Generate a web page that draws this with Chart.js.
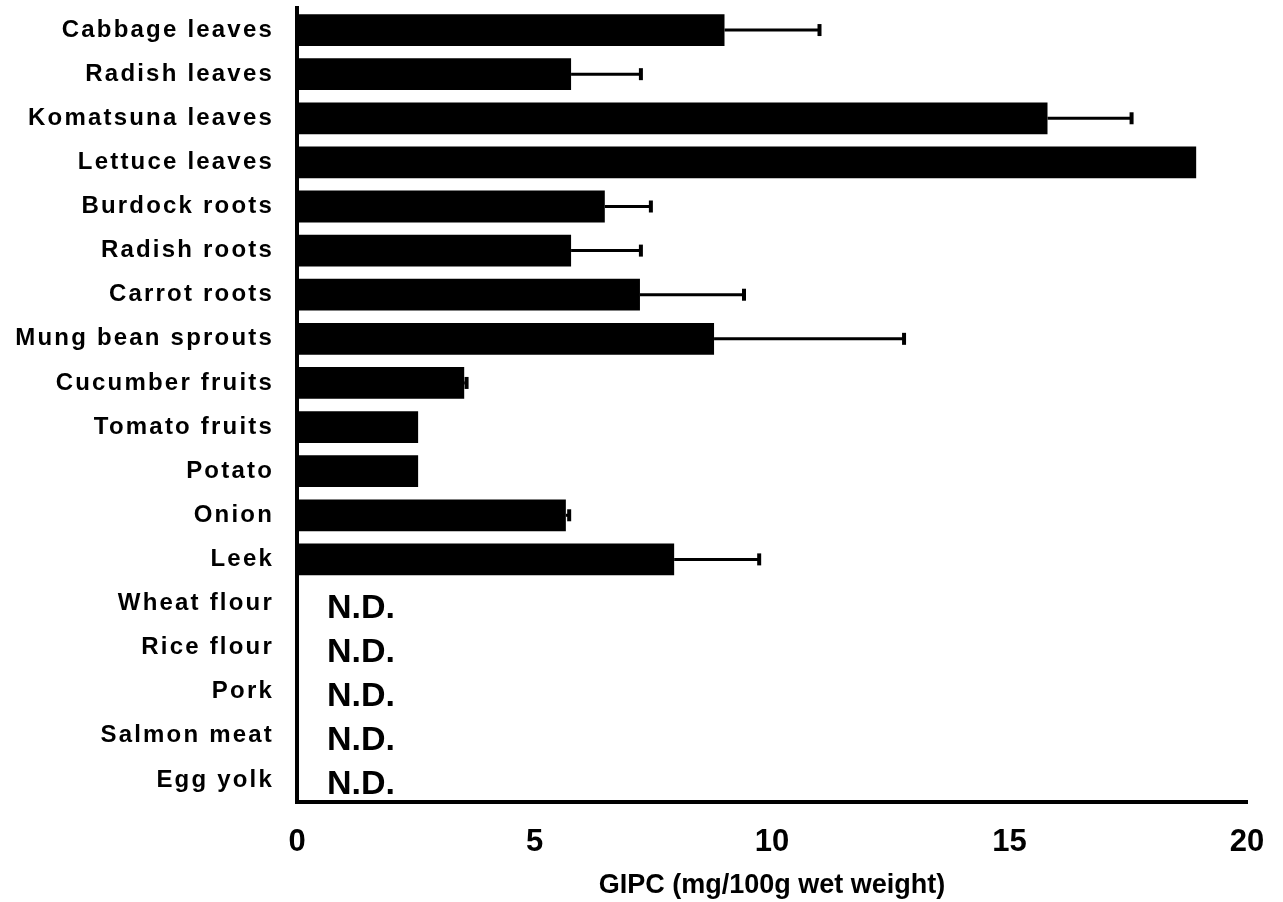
<!DOCTYPE html>
<html>
<head>
<meta charset="utf-8">
<title>GIPC content</title>
<script src="https://cdn.jsdelivr.net/npm/chart.js@4/dist/chart.umd.min.js"></script>
<style>
  html, body { margin: 0; padding: 0; background: #fff; }
  #wrap { width: 1283px; height: 902px; }
</style>
</head>
<body>
<div id="wrap"><canvas id="gipcChart" width="1283" height="902"></canvas></div>
<script>
// data
const foods = [
    'Cabbage leaves', 'Radish leaves', 'Komatsuna leaves', 'Lettuce leaves',
    'Burdock roots', 'Radish roots', 'Carrot roots', 'Mung bean sprouts',
    'Cucumber fruits', 'Tomato fruits', 'Potato', 'Onion', 'Leek',
    'Wheat flour', 'Rice flour', 'Pork', 'Salmon meat', 'Egg yolk'
];
const gipc = [9.0, 5.77, 15.8, 18.93, 6.48, 5.77, 7.22, 8.78, 3.52, 2.55, 2.55, 5.66, 7.94, 0, 0, 0, 0, 0];
const gipcSd = [2.0, 1.47, 1.77, 0, 0.97, 1.47, 2.19, 4.0, 0.05, 0, 0, 0.07, 1.79, 0, 0, 0, 0, 0];
const notDetected = [false, false, false, false, false, false, false, false, false, false, false, false, false, true, true, true, true, true];
const xTicks = [0, 5, 10, 15, 20];

const fontFamily = '"Liberation Sans", Arial, Helvetica, sans-serif';

// category labels in the original are drawn with a bit of tracking
function spaceOutLabels(axis) {
    if (axis._spaced) return;
    axis._spaced = true;
    const orig = axis.drawLabels;
    axis.drawLabels = function(area) {
        this.ctx.save();
        this.ctx.letterSpacing = '2.2px';
        orig.call(this, area);
        this.ctx.restore();
    };
}

// error bars + N.D. labels drawn on top of the bars
const errorBarPlugin = {
    id: 'errorBars',
    afterDatasetsDraw(chart) {
        const ctx = chart.ctx;
        const xs = chart.scales.x;
        const ys = chart.scales.y;
        ctx.save();
        ctx.strokeStyle = '#000';
        ctx.fillStyle = '#000';
        gipc.forEach((v, i) => {
            const y = ys.getPixelForValue(i);
            if (gipcSd[i] > 0) {
                const x1 = xs.getPixelForValue(v);
                const x2 = xs.getPixelForValue(v + gipcSd[i]);
                ctx.lineWidth = 3;
                ctx.beginPath();
                ctx.moveTo(x1, y);
                ctx.lineTo(x2, y);
                ctx.stroke();
                ctx.lineWidth = 4;
                ctx.beginPath();
                ctx.moveTo(x2, y - 6);
                ctx.lineTo(x2, y + 6);
                ctx.stroke();
            }
            if (notDetected[i]) {
                ctx.font = 'bold 34px ' + fontFamily;
                ctx.textAlign = 'left';
                ctx.textBaseline = 'middle';
                ctx.fillText('N.D.', xs.getPixelForValue(0) + 30, y + 5);
            }
        });
        ctx.restore();
    }
};

const ctx = document.getElementById('gipcChart').getContext('2d');
const myChart = new Chart(ctx, {
    type: 'bar',
    data: {
        labels: foods,
        datasets: [{
            label: 'GIPC',
            data: gipc,
            backgroundColor: '#000',
            borderWidth: 0,
            barPercentage: 0.9,
            categoryPercentage: 0.8
        }]
    },
    options: {
        indexAxis: 'y',
        responsive: false,
        animation: false,
        layout: { padding: { top: 8, right: 36, bottom: 0, left: 0 } },
        plugins: {
            legend: { display: false },
            tooltip: { enabled: false }
        },
        scales: {
            x: {
                min: 0,
                max: 20,
                afterBuildTicks(axis) {
                    axis.ticks = xTicks.map(v => ({ value: v }));
                },
                afterFit(axis) {
                    axis.height = 100;
                    axis.paddingLeft = 0;
                    axis.paddingRight = 0;
                },
                grid: { display: false, drawTicks: false },
                border: { display: true, color: '#000', width: 4 },
                ticks: {
                    color: '#000',
                    padding: 22,
                    font: { family: fontFamily, size: 31, weight: 'bold' }
                },
                title: {
                    display: true,
                    text: 'GIPC (mg/100g wet weight)',
                    color: '#000',
                    padding: { top: 8, bottom: 0 },
                    font: { family: fontFamily, size: 27, weight: 'bold' }
                }
            },
            y: {
                afterFit(axis) {
                    axis.width = 297;
                    axis.paddingTop = 0;
                    axis.paddingBottom = 0;
                },
                afterUpdate: spaceOutLabels,
                grid: { display: false, drawTicks: false },
                border: { display: true, color: '#000', width: 4 },
                ticks: {
                    color: '#000',
                    padding: 23,
                    autoSkip: false,
                    font: { family: fontFamily, size: 24, weight: 'bold' }
                }
            }
        }
    },
    plugins: [errorBarPlugin]
});
</script>
</body>
</html>
